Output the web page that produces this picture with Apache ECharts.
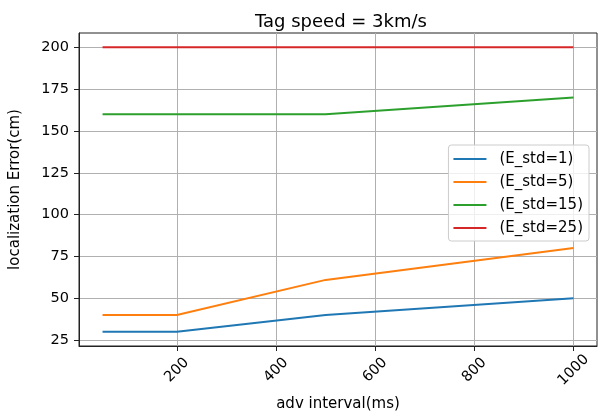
<!DOCTYPE html>
<html>
<head>
<meta charset="utf-8">
<script src="https://cdn.jsdelivr.net/npm/echarts@6/dist/echarts.min.js"></script>
<style>
  html, body { margin: 0; padding: 0; background: #fff; }
  #main { width: 601px; height: 417px; }
</style>
</head>
<body>
<div id="main"></div>
<script>
// data
var intervals = [50, 200, 500, 1000];
var std1 = [30, 30, 40, 50];
var std5 = [40, 40, 61, 80];
var std15 = [160, 160, 160, 170];
var std25 = [200, 200, 200, 200];
var xTicks = [200, 400, 600, 800, 1000];
var yTicks = [25, 50, 75, 100, 125, 150, 175, 200];
var names = ['(E_std=1)', '(E_std=5)', '(E_std=15)', '(E_std=25)'];
var colors = ['#1f77b4', '#ff7f0e', '#2ca02c', '#d62728'];

function pairs(ys) {
  return intervals.map(function (x, i) { return [x, ys[i]]; });
}

var chart = echarts.init(document.getElementById('main'));
var font = 'DejaVu Sans';

var allSeries = [std1, std5, std15, std25].map(function (ys, i) {
  return {
    name: names[i],
    type: 'line',
    data: pairs(ys),
    symbol: 'none',
    lineStyle: { width: 2, color: colors[i] },
    itemStyle: { color: colors[i] },
    z: 3
  };
});

chart.setOption({
  animation: false,
  backgroundColor: '#fff',
  textStyle: { fontFamily: font },
  title: {
    text: 'Tag speed = 3km/s',
    left: 336, top: 8, textAlign: 'center',
    textStyle: { fontFamily: font, fontSize: 18, fontWeight: 'normal', color: '#000' }
  },
  grid: { left: 77, right: 4, top: 33, bottom: 68, show: true, borderColor: '#222', borderWidth: 1, backgroundColor: 'transparent' },
  legend: {
    orient: 'vertical',
    right: 12, top: 145,
    icon: 'rect',
    itemWidth: 33, itemHeight: 2,
    itemGap: 7,
    padding: [6, 6, 5, 5],
    backgroundColor: 'rgba(255,255,255,0.8)',
    borderColor: '#cccccc', borderWidth: 1, borderRadius: 3,
    textStyle: { fontFamily: font, fontSize: 15, lineHeight: 16, color: '#000', padding: [0, 0, 0, 8] },
    data: names
  },
  xAxis: {
    type: 'value',
    min: 2.5, max: 1047.5,
    name: 'adv interval(ms)',
    nameLocation: 'middle', nameGap: 51,
    nameTextStyle: { fontFamily: font, fontSize: 15, color: '#000' },
    axisLine: { show: true, lineStyle: { color: '#222', width: 1 } },
    axisTick: { show: true, length: 5, customValues: xTicks, lineStyle: { color: '#222' } },
    axisLabel: {
      customValues: xTicks, rotate: 45, margin: 24,
      align: 'center', verticalAlign: 'middle',
      fontFamily: font, fontSize: 14.5, color: '#000',
      formatter: function (v) { return String(v); }
    },
    splitLine: { show: true, lineStyle: { color: '#b0b0b0', width: 1 } }
  },
  yAxis: {
    type: 'value',
    min: 21.5, max: 208.5,
    name: 'localization Error(cm)',
    nameLocation: 'middle', nameGap: 56,
    nameTextStyle: { fontFamily: font, fontSize: 15, color: '#000' },
    axisLine: { show: true, lineStyle: { color: '#222', width: 1 } },
    axisTick: { show: true, length: 5, customValues: yTicks, lineStyle: { color: '#222' } },
    axisLabel: { customValues: yTicks, margin: 10, fontFamily: font, fontSize: 14.5, color: '#000' },
    splitLine: { show: true, lineStyle: { color: '#b0b0b0', width: 1 } }
  },
  series: allSeries
});
</script>
</body>
</html>
